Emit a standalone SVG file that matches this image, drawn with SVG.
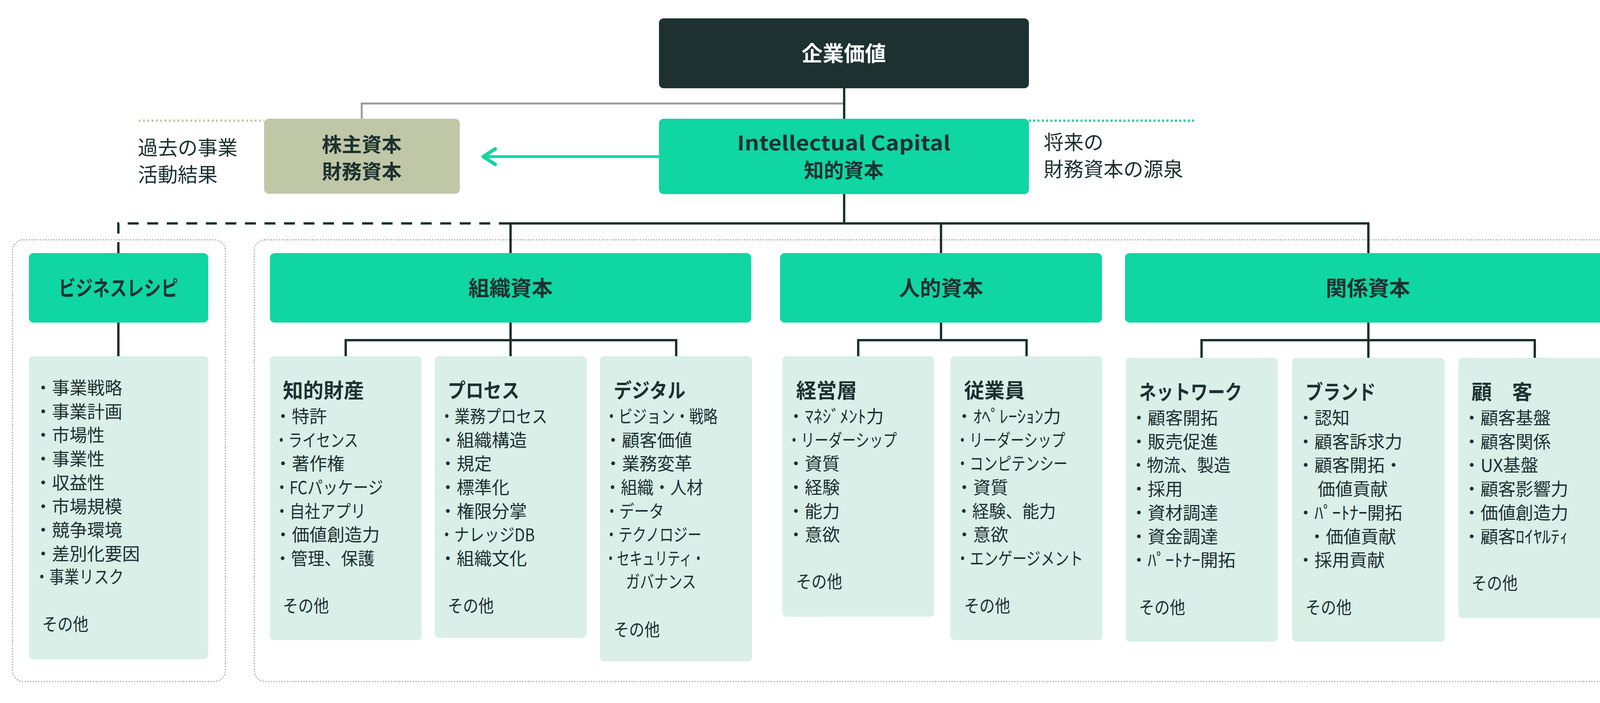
<svg xmlns="http://www.w3.org/2000/svg" width="4198" height="1800" viewBox="0 0 4198 1800">
<style>
.t{font-family:"Noto Sans CJK JP","Noto Sans",sans-serif;fill:#1d3131}
.it{font-size:45px}
.ti{font-size:52px;font-weight:700}
.hd{font-size:54px;font-weight:700;text-anchor:middle}
.hd2{font-size:51px;font-weight:700;text-anchor:middle}
.lb{font-size:51px}
.g{fill:#0fd6a2}
.lt{fill:#d9efe8}
.cn{fill:none;stroke:#1d3131;stroke-width:6}
.outer{fill:none;stroke:#a8a8a8;stroke-width:3;stroke-dasharray:3 4}
</style>
<rect width="4198" height="1800" fill="#ffffff"/>

<g id="outer-boxes">
<rect class="outer" x="32" y="614" width="545" height="1131" rx="28"/>
<rect class="outer" x="651" y="614" width="3515" height="1131" rx="28"/>
</g>

<g id="connectors">
<path d="M926,304 V265 H2161" fill="none" stroke="#9b9b9b" stroke-width="5"/>
<path class="cn" d="M2161,226 V304 M2161,497 V572"/>
<path class="cn" d="M1307,648 V572 H3503 V648 M2409,572 V648"/>
<path d="M303,648 V572 H1307" fill="none" stroke="#1d3131" stroke-width="6" stroke-dasharray="28 22"/>
<path class="cn" d="M303,826 V912"/>
<path class="cn" d="M1307,826 V912 M885,912 V871 H1731 V912"/>
<path class="cn" d="M2409,826 V871 M2197,912 V871 H2628 V912"/>
<path class="cn" d="M3503,826 V916 M3076,916 V871 H3929 V916"/>
<path d="M355,309 H676" stroke="#c6c9ad" stroke-width="6" stroke-dasharray="5 6"/>
<path d="M2634,309 H3058" stroke="#0fd6a2" stroke-width="6" stroke-dasharray="5 6"/>
<path d="M1687,401 H1240" stroke="#0fd6a2" stroke-width="7"/>
<path d="M1268,381 L1237,401 L1268,421" fill="none" stroke="#0fd6a2" stroke-width="9" stroke-linecap="round" stroke-linejoin="round"/>
</g>

<g id="n-kigyo">
<rect x="1687" y="47" width="947" height="179" rx="12" fill="#1d3131"/>
<text class="t hd" x="2160" y="157" style="fill:#ffffff">企業価値</text>
</g>

<g id="n-ic">
<rect class="g" x="1687" y="304" width="947" height="193" rx="12"/>
<text class="t hd2" x="2160" y="385" textLength="546" lengthAdjust="spacingAndGlyphs">Intellectual Capital</text>
<text class="t hd2" x="2160" y="455">知的資本</text>
</g>

<g id="n-kabu">
<rect x="676" y="304" width="501" height="192" rx="12" fill="#bfc7a6"/>
<text class="t hd2" x="926" y="389">株主資本</text>
<text class="t hd2" x="926" y="458">財務資本</text>
</g>

<g id="lbl-past">
<text class="t lb" x="353" y="397">過去の事業</text>
<text class="t lb" x="353" y="466">活動結果</text>
</g>

<g id="lbl-future">
<text class="t lb" x="2672" y="383">将来の</text>
<text class="t lb" x="2672" y="452">財務資本の源泉</text>
</g>

<g id="n-br">
<rect class="g" x="74" y="648" width="459" height="178" rx="12"/>
<text class="t hd" x="303" y="758" textLength="306" lengthAdjust="spacingAndGlyphs">ビジネスレシピ</text>
</g>

<g id="n-br-list">
<rect class="lt" x="74" y="912" width="459" height="776" rx="10"/>
<text class="t it" x="88" y="1010">・事業戦略</text>
<text class="t it" x="88" y="1071">・事業計画</text>
<text class="t it" x="88" y="1131">・市場性</text>
<text class="t it" x="88" y="1192">・事業性</text>
<text class="t it" x="88" y="1253">・収益性</text>
<text class="t it" x="88" y="1314">・市場規模</text>
<text class="t it" x="88" y="1374">・競争環境</text>
<text class="t it" x="88" y="1435">・差別化要因</text>
<text class="t it" x="88" y="1494" textLength="229" lengthAdjust="spacingAndGlyphs">・事業リスク</text>
<text class="t it" x="108" y="1615" textLength="118" lengthAdjust="spacingAndGlyphs">その他</text>
</g>

<g id="n-soshiki">
<rect class="g" x="691" y="648" width="1232" height="178" rx="12"/>
<text class="t hd" x="1307" y="758">組織資本</text>
</g>

<g id="n-chiteki">
<rect class="lt" x="691" y="912" width="388" height="727" rx="10"/>
<text class="t ti" x="724" y="1019">知的財産</text>
<text class="t it" x="702" y="1083">・特許</text>
<text class="t it" x="702" y="1144" textLength="215" lengthAdjust="spacingAndGlyphs">・ライセンス</text>
<text class="t it" x="702" y="1204">・著作権</text>
<text class="t it" x="702" y="1265" textLength="279" lengthAdjust="spacingAndGlyphs">・FCパッケージ</text>
<text class="t it" x="702" y="1326" textLength="235" lengthAdjust="spacingAndGlyphs">・自社アプリ</text>
<text class="t it" x="702" y="1386">・価値創造力</text>
<text class="t it" x="702" y="1447" textLength="257" lengthAdjust="spacingAndGlyphs">・管理、保護</text>
<text class="t it" x="724" y="1568" textLength="118" lengthAdjust="spacingAndGlyphs">その他</text>
</g>

<g id="n-process">
<rect class="lt" x="1113" y="912" width="389" height="721" rx="10"/>
<text class="t ti" x="1146" y="1019" textLength="184" lengthAdjust="spacingAndGlyphs">プロセス</text>
<text class="t it" x="1124" y="1083" textLength="277" lengthAdjust="spacingAndGlyphs">・業務プロセス</text>
<text class="t it" x="1124" y="1144">・組織構造</text>
<text class="t it" x="1124" y="1204">・規定</text>
<text class="t it" x="1124" y="1265">・標準化</text>
<text class="t it" x="1124" y="1326">・権限分掌</text>
<text class="t it" x="1124" y="1386" textLength="245" lengthAdjust="spacingAndGlyphs">・ナレッジDB</text>
<text class="t it" x="1124" y="1447">・組織文化</text>
<text class="t it" x="1146" y="1568" textLength="118" lengthAdjust="spacingAndGlyphs">その他</text>
</g>

<g id="n-digital">
<rect class="lt" x="1536" y="912" width="389" height="781" rx="10"/>
<text class="t ti" x="1571" y="1019" textLength="184" lengthAdjust="spacingAndGlyphs">デジタル</text>
<text class="t it" x="1547" y="1083" textLength="290" lengthAdjust="spacingAndGlyphs">・ビジョン・戦略</text>
<text class="t it" x="1547" y="1144">・顧客価値</text>
<text class="t it" x="1547" y="1204">・業務変革</text>
<text class="t it" x="1547" y="1265" textLength="253" lengthAdjust="spacingAndGlyphs">・組織・人材</text>
<text class="t it" x="1547" y="1326" textLength="153" lengthAdjust="spacingAndGlyphs">・データ</text>
<text class="t it" x="1547" y="1386" textLength="249" lengthAdjust="spacingAndGlyphs">・テクノロジー</text>
<text class="t it" x="1547" y="1447" textLength="257" lengthAdjust="spacingAndGlyphs">・セキュリティ・</text>
<text class="t it" x="1602" y="1506" textLength="180" lengthAdjust="spacingAndGlyphs">ガバナンス</text>
<text class="t it" x="1571" y="1629" textLength="118" lengthAdjust="spacingAndGlyphs">その他</text>
</g>

<g id="n-jinteki">
<rect class="g" x="1997" y="648" width="824" height="178" rx="12"/>
<text class="t hd" x="2409" y="758">人的資本</text>
</g>

<g id="n-keiei">
<rect class="lt" x="2003" y="912" width="388" height="667" rx="10"/>
<text class="t ti" x="2038" y="1019">経営層</text>
<text class="t it" x="2015" y="1083">・ﾏﾈｼﾞﾒﾝﾄ力</text>
<text class="t it" x="2015" y="1144" textLength="281" lengthAdjust="spacingAndGlyphs">・リーダーシップ</text>
<text class="t it" x="2015" y="1204">・資質</text>
<text class="t it" x="2015" y="1265">・経験</text>
<text class="t it" x="2015" y="1326">・能力</text>
<text class="t it" x="2015" y="1386">・意欲</text>
<text class="t it" x="2038" y="1506" textLength="118" lengthAdjust="spacingAndGlyphs">その他</text>
</g>

<g id="n-jugyoin">
<rect class="lt" x="2433" y="912" width="389" height="727" rx="10"/>
<text class="t ti" x="2468" y="1019">従業員</text>
<text class="t it" x="2446" y="1083">・ｵﾍﾟﾚｰｼｮﾝ力</text>
<text class="t it" x="2446" y="1144" textLength="281" lengthAdjust="spacingAndGlyphs">・リーダーシップ</text>
<text class="t it" x="2446" y="1204" textLength="287" lengthAdjust="spacingAndGlyphs">・コンピテンシー</text>
<text class="t it" x="2446" y="1265">・資質</text>
<text class="t it" x="2446" y="1326" textLength="257" lengthAdjust="spacingAndGlyphs">・経験、能力</text>
<text class="t it" x="2446" y="1386">・意欲</text>
<text class="t it" x="2446" y="1447" textLength="327" lengthAdjust="spacingAndGlyphs">・エンゲージメント</text>
<text class="t it" x="2468" y="1568" textLength="118" lengthAdjust="spacingAndGlyphs">その他</text>
</g>

<g id="n-kankei">
<rect class="g" x="2880" y="648" width="1244" height="178" rx="12"/>
<text class="t hd" x="3502" y="758">関係資本</text>
</g>

<g id="n-network">
<rect class="lt" x="2882" y="916" width="389" height="727" rx="10"/>
<text class="t ti" x="2916" y="1023" textLength="264" lengthAdjust="spacingAndGlyphs">ネットワーク</text>
<text class="t it" x="2893" y="1087">・顧客開拓</text>
<text class="t it" x="2893" y="1148">・販売促進</text>
<text class="t it" x="2893" y="1208" textLength="257" lengthAdjust="spacingAndGlyphs">・物流、製造</text>
<text class="t it" x="2893" y="1269">・採用</text>
<text class="t it" x="2893" y="1330">・資材調達</text>
<text class="t it" x="2893" y="1391">・資金調達</text>
<text class="t it" x="2893" y="1451">・ﾊﾟｰﾄﾅｰ開拓</text>
<text class="t it" x="2916" y="1572" textLength="118" lengthAdjust="spacingAndGlyphs">その他</text>
</g>

<g id="n-brand">
<rect class="lt" x="3308" y="916" width="390" height="727" rx="10"/>
<text class="t ti" x="3342" y="1023" textLength="180" lengthAdjust="spacingAndGlyphs">ブランド</text>
<text class="t it" x="3320" y="1087">・認知</text>
<text class="t it" x="3320" y="1148">・顧客訴求力</text>
<text class="t it" x="3320" y="1208">・顧客開拓・</text>
<text class="t it" x="3373" y="1269">価値貢献</text>
<text class="t it" x="3320" y="1330">・ﾊﾟｰﾄﾅｰ開拓</text>
<text class="t it" x="3349" y="1391">・価値貢献</text>
<text class="t it" x="3320" y="1451">・採用貢献</text>
<text class="t it" x="3342" y="1572" textLength="118" lengthAdjust="spacingAndGlyphs">その他</text>
</g>

<g id="n-kokyaku">
<rect class="lt" x="3734" y="916" width="390" height="667" rx="10"/>
<text class="t ti" x="3767" y="1023">顧　客</text>
<text class="t it" x="3745" y="1087">・顧客基盤</text>
<text class="t it" x="3745" y="1148">・顧客関係</text>
<text class="t it" x="3745" y="1208">・UX基盤</text>
<text class="t it" x="3745" y="1269">・顧客影響力</text>
<text class="t it" x="3745" y="1330">・価値創造力</text>
<text class="t it" x="3745" y="1391">・顧客ﾛｲﾔﾙﾃｨ</text>
<text class="t it" x="3767" y="1510" textLength="118" lengthAdjust="spacingAndGlyphs">その他</text>
</g>
</svg>
